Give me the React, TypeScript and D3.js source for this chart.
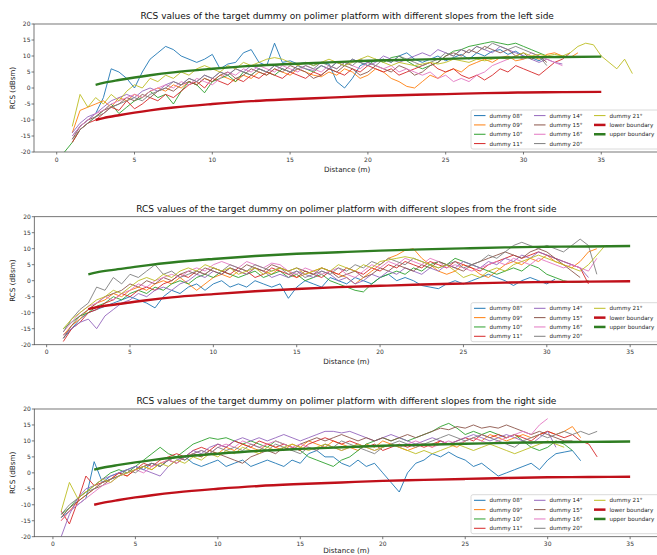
import React from "react";
import * as d3 from "d3";

// ---------- labels ----------
const seriesNames = ["dummy 08°", "dummy 09°", "dummy 10°", "dummy 11°", "dummy 14°", "dummy 15°", "dummy 16°", "dummy 20°", "dummy 21°"];
const seriesColors = ["#1f77b4", "#ff7f0e", "#2ca02c", "#d62728", "#9467bd", "#8c564b", "#e377c2", "#7f7f7f", "#bcbd22"];
const boundaryNames = ["lower boundary", "upper boundary"];
const boundaryColors = ["#c0101a", "#2f7d22"];
const titles = [
  "RCS values of the target dummy on polimer platform with different slopes from the left side",
  "RCS values of the target dummy on polimer platform with different slopes from the front side",
  "RCS values of the target dummy on polimer platform with different slopes from the right side",
];
const xTicks = [0, 5, 10, 15, 20, 25, 30, 35];
const yTicks = [-20, -15, -10, -5, 0, 5, 10, 15, 20];
const xLabel = "Distance (m)";
const yLabel = "RCS (dBsm)";

// sample spacing of the measured series (m)
const STEP = 0.5;

// ---------- left side ----------
const leftStarts = [1.0, 1.0, 0.5, 1.0, 1.0, 1.0, 1.0, 1.0, 1.0];
const left08 = [-15,-12,-10,-8,-3,6,5,3,0,5, 9,11,13,12,10,9,8,9,10.5,6, 7.5,8,11,12,8,7,14,8,8.5,7.5, 8,7,8,7.5,2,0,3,7,8,8.5, 9,8,10,11,9,8,9,10,8.5,9.5, 10.5,9,11,10,11.5,12,10.5,11.5,10,9.5, 8.5,10];
const left09 = [-14,-7,-6,-5,-4,-6,-3,-4,-2,-3, -1,0,-1,1,0,2,1,3,2,4, 3,2,4,3,5,4,6,5,4,6, 5,4,3.5,5,4,6,5,3,4,6, 5,3,2,0.5,0,2,4,3,5,6, 5,7,8,9,8,9.5,10,8.5,9,10, 9,10.5,11,10,9.5,11];
const left10 = [-20,-17,-13,-11,-9,-7,-5,-8,-6,-4, -3,-1,-3,-2,-5,-1,2,1,-1.5,2, 3,4,2,5,4,6,5,4,6,5, 7,6,5,7,6,8,7,9,8,7, 9,8,9.5,10,8.5,7,6,7,8,10, 11.5,12,13,13.5,14,14.5,14,13.5,14,13, 12,11,10];
const left11 = [-17,-13,-11,-10,-8,-6,-7,-4,-6.5,-5, -3,-4,-2,-3,-1,1,2,0,3,2, 1,3,2,4,3,5,4,3,5,4, 3,5,4,6,5,4,6,5,7,6, 5,6,4,5,6,7,8,6,5,6, 4,3,4,2.5,4,6,5,7,6,5, 4,6,8,9,11];
const left14 = [-14,-11,-9,-8,-6,-4,-3,-2,-3,-1, 0,-1,1,2,1,3,2,4,3,5, 4,6,5,7,6,5,7,6,5,7, 6,5.5,7,6,8,7,9,8,7,8, 10,9,8,9,10,11,10,12,11,10, 12,11,13,12,11,13,12,11,10,9, 8,9,8,7.5];
const left15 = [-16,-12,-10,-9,-7,-6,-5,-3,-4,-2, -3,-1,0,-1,1,2,1,3,2,4, 5,3,4,6,5,4,6,5,7,6, 5,3,4,6,5,7,6,4,5,7, 6,5,7,6,4,5,7,8,10,11, 10,12,11,13,12,11,12,10,11,9, 10,8];
const left16 = [-15,-12,-10,-8,-7,-5,-4,-3,-2,-3, -1,0,1,0,2,1,3,2,1,3, 5,4,6,5,7,6,5,7,6,5, 7,6,5,7,6,8,7,6,8,7, 6,7,5,6,5,4,5,3,4,2, 3,2,4,5,7,8,9,10,9,11, 10,9,8,7];
const left20 = [-16,-13,-11,-9,-8,-6,-5,-4,-3,-4, -2,-1,0,2,1,3,2,4,3,5, 4,6,5,4,6,5,7,6,5,6, 7,6,8,7,6,8,7,9,8,7, 9,8,10,9,8,7,8,9,11,10, 12,11,13,12,14,13,12,13,12,11, 10,7];
const left21 = [-12,-2,-6,-3,-5,-2,-4,-1,1,0, 3,2,4,3,5,4,6,7,6,5, 7,6,8,7,8,9,9.5,9,8,7, 8,7,8,9,8,7,8,9,10,9, 8,7,8,7.5,7,7.5,8,7.5,8,9, 8.5,8,9,8.5,9,9.5,9,10,11,10, 10.5,10,10.5,10,11,13,14,13.5,10,8, 6,9,4.5];

// ---------- front side ----------
const frontStarts = [1.0, 1.0, 1.0, 1.0, 1.0, 1.0, 1.0, 1.0, 1.0];
const front08 = [-18,-15,-12,-10,-9,-8,-7,-6,-5,-6, -7,-8.5,-5,-3,-4,-2,-1,-3,-1,0, -2,-1,-2,0,-1,-2,-1,-5.5,-2,0, -1,-2,1,0,-1,1,0,-1,1,2, 0,1,0,-1.5,-2,-2.5,-1,0,-1,0, 1,2,1,0,-1.5,0,1,0,-1,0.5];
const front09 = [-17,-14,-12,-9,-7,-6,-4,-5,-3,-2, -3,-1,0,-1,1,-1,-3,-1,1,2, 1,3,2,4,3,2,4,3,1,2, 3,4,3,2,1,-1,1,3,5,7, 8,9.5,10,7,5,3,2,3,5,4, 2,1,3,5,6,5,7,6,8,6, 5,4,6,9,10];
const front10 = [-15,-13,-11,-10,-8,-7,-5,-6,-4,-3, -4,-2,-3,-1,0,-1,1,2,1,3, 2,1,2,3,1,2,3,1,2,0, 1,2,0,-1,-2,-3,-3.5,-1,1,2, 3,2,4,3,5,6,5,7,6,5, 4,3,2,3,4,3,5,4,2,1, 0,-0.5,-0.5,0];
const front11 = [-19,-15,-13,-10,-9,-7,-6,-4,-5,-3, -2,-3,-1,0,2,1,3,2,4,3, 2,4,3,1,2,4,3,2,1,3, 2,1,3,2,4,3,2,4,3,5, 4,6,5,4,6,5,4,6,5,4, 3,5,6,7,8,7,8,9,8,7, 6,5,4,-1];
const front14 = [-17,-15,-13,-12,-15,-11,-9,-7,-6,-4, -5,-3,-2,-3,-1,0,2,1,3,2, 4,3,2,4,3,1,2,1,3,2, 1,3,2,0,1,-1,0,2,1,3, 2,4,3,2,4,3,5,4,6,5, 4,6,5,7,6,8,7,9,8,7, 6,5,4,1];
const front15 = [-18,-14,-11,-9,-7,-5,-4,-3,-1,-2, 0,-1,1,0,2,3,2,4,3,2, 4,3,5,4,3,5,4,3,4,3, 2,4,3,1,2,3,1,2,4,3, 5,4,3,5,4,6,5,4,3,5, 6,7,8,9,8,7,9,10,9,7, 5,3,1];
const front16 = [-16,-13,-10,-8,-7,-5,-6,-4,-3,-1, -2,0,1,2,1,3,4,3,5,6, 5,4,6,5,4,5.5,5,3,2,4, 3,2,3,4,2,1,3,5,4,6, 5,7,6,5,7,6,4,5,4,3, 4,5,6,5,7,6,5,7,6,5, 4,5,4,3,7];
const front20 = [-16,-12,-9,-7,-2,-3,1,-1,2,1, 3,5,2,3,1,2,3,2,4,3, 5,4,3,5,4,3,4,2,3,1, 2,3,2,4,3,5,4,6,5,7, 6,5,7,6,5,4,5,6,4,5, 6,8,7,9,11,12,11,10,11,10, 9,11,13,11,2];
const front21 = [-15,-12,-10,-8,-6,-5,-3,-4,-2,0, 1,0,2,1,3,4,3,5,4,3, 4,2,3,4,2,3,4,3,4,2, 3,4,3,5,4,3,5,4,6,6.5, 7,7.5,7,6,5,4,5,3,1,2, 1,3,4,3,5,6,7,8,7,6, 5,4,3,5,8,11];

// ---------- right side ----------
const rightStarts = [0.5, 0.5, 0.5, 0.5, 0.5, 0.5, 0.5, 0.5, 0.5];
const right08 = [-14,-12,-10,-8,3.5,-3,-1,0,1,2, 1,3,2,4,3,5,3,2,3,4, 2,3,4,2,3,4,3,2,4,3, 6,7,5,5,3,2,4,2,3,0, -3,-6,0,3,4,6,5,6.5,5,4, 2,3,1,-1,0,1,2,3,1,4, 6,6.5,7,3.8];
const right09 = [-15,-12,-9,-7,-5,-3,-2,0,-1,1, 2,1,3,4,3,5,6,5,7,6, 8,7,9,8,7,9,8,7,9,8, 10,9,8,10,9,8,7,9,8,10, 9,8,7,8,9,8,10,9,8,10, 11,10,12,11,10,11,12,11,12,13, 12,13,14.5,11];
const right10 = [-13,-11,-8,-6,-4,-2,0,1,0,2, 4,6,8,6,5,7,9,10,11,10.5, 11,10,9,10,9,8,10,9,8,7, 5,4,3,2,4,5,7,9,10,11, 10,11,10,11,12,13,14.5,15.5,14,12, 13,12,13,12,11,12,10,8,7,8, 10,9,7];
const right11 = [-12,-16,-9,-1,-4,-3,-2,0,-1,1, 3,2,4,5,6,5,7,8,7,9, 8,10,9,8,10,9,8,9,8,7, 9,10,11,10,9,10,9,8,9,7, 8,9,8,9,8,9,10,9,10,11, 10,12,11,12,11,12,11,10,12,13, 12,11,12,10,9,5];
const right14 = [-20,-13,-8,-5,-4,-2,-1,0,1,2, 1,0,-1,2,4,5,7,6,8,9, 8,10,11,10,11,10,11,12,11,10, 11,12,13,13,12.5,13,12,11,10,11, 12,11,10,9,10,11,10,9,10,11, 12,11,10,11,12,11,10,9,11,13, 8];
const right15 = [-14,-11,-9,-7,-5,-4,-2,-1,0,1, 2,3,2,4,5,4,6,5,7,6, 5,4,3,5,6,7,6,8,7,9, 10,11,10,11,12,11,10,11,10,11, 10,11,12,11,12,13,14,13.5,14.5,14, 15,14,14.5,14,15,14,13,12,13,12, 11,10,10];
const right16 = [-15,-12,-10,-8,-6,-4,-3,-1,0,1, 0,2,3,4,3,5,6,7,6,8, 9,8,10,9,8,9,10,9,8,9, 8,7,9,8,7,8,9,8,7,8, 9,8,9,10,9,8,9,10,9,10, 11,10,9,10,11,12,13,12,15,17];
const right20 = [-13,-10,-8,-6,-5,-3,-2,-1,1,0, 2,3,2,4,5,4,6,7,6,8, 7,8,7,9,8,7,9,8,7,6, 8,7,9,8,10,9,8,7,6,8, 9,10,9,8,9,10,11,12,11,10, 11,12,11,10,9,8,10,11,12,11, 12,13,12,13,12,13];
const right21 = [-12,-3,-8,-6,-4,-2,-3,-1,0,1, 2,1,3,2,4,3,5,4,6,5, 7,6,8,7,6,8,7,8,9,8, 7,8,9,8,7,8,9,8,7,8, 9,8,7,6,7,6,7,8,9,8, 7,8,9,8,7,6,7,8,9,10, 9,8];

// ---------- boundaries ----------
const boundaryDist = [2.5, 3, 4, 5, 6, 7.5, 10, 12.5, 15, 17.5, 20, 22.5, 25, 27.5, 30, 32.5, 35];
const leftUpper = [1.0, 1.6, 2.5, 3.3, 4.0, 4.9, 6.0, 6.9, 7.5, 8.0, 8.5, 8.8, 9.1, 9.4, 9.6, 9.7, 9.8];
const leftLower = [-10, -9.4, -8.5, -7.7, -7.0, -6.1, -5.0, -4.1, -3.5, -3.0, -2.5, -2.2, -1.9, -1.6, -1.4, -1.3, -1.2];
const frontUpper = [2.0, 2.6, 3.4, 4.1, 4.8, 5.7, 6.8, 7.7, 8.4, 8.9, 9.4, 9.8, 10.1, 10.4, 10.6, 10.7, 10.85];
const frontLower = [-8.9, -8.3, -7.5, -6.8, -6.1, -5.2, -4.2, -3.3, -2.6, -2.0, -1.6, -1.2, -0.9, -0.6, -0.4, -0.3, -0.15];
const rightUpper = [1.0, 1.6, 2.5, 3.3, 4.0, 4.9, 6.0, 6.9, 7.5, 8.0, 8.5, 8.8, 9.1, 9.4, 9.6, 9.7, 9.8];
const rightLower = [-10, -9.4, -8.5, -7.7, -7.0, -6.1, -5.0, -4.1, -3.5, -3.0, -2.5, -2.2, -1.9, -1.6, -1.4, -1.3, -1.2];

const FONT = "DejaVu Sans, sans-serif";

type PanelProps = {
  title: string;
  series: number[][];
  starts: number[];
  upper: number[];
  lower: number[];
  top: number;
  bottom: number;
  left: number;
  right: number;
  xDomain: [number, number];
};

function Panel({ title, series, starts, upper, lower, top, bottom, left, right, xDomain }: PanelProps) {
  const x = d3.scaleLinear().domain(xDomain).range([left, right]);
  const y = d3.scaleLinear().domain([-20, 20]).range([bottom, top]);
  const line = d3
    .line<[number, number]>()
    .x((d) => x(d[0]))
    .y((d) => y(d[1]));
  const smooth = d3
    .line<[number, number]>()
    .x((d) => x(d[0]))
    .y((d) => y(d[1]))
    .curve(d3.curveMonotoneX);
  const clipId = "clip" + Math.round(top);
  const midX = (left + right) / 2;
  const legTop = bottom - 42;
  const legLeft = 471;
  const rowY = (r: number) => legTop + 5.6 + r * 9.33;
  const colLine = [474, 534, 594];
  const legendItems = [
    ...seriesNames.map((n, i) => ({ name: n, color: seriesColors[i], w: 1 })),
    ...boundaryNames.map((n, i) => ({ name: n, color: boundaryColors[i], w: 2.5 })),
  ];
  const xLabelY = Math.min(bottom + 19.5, 552.5);
  return (
    <g>
      <defs>
        <clipPath id={clipId}>
          <rect x={left} y={top} width={right - left} height={bottom - top} />
        </clipPath>
      </defs>
      <text x={midX} y={top - 5} textAnchor="middle" fontSize={9.0} fontFamily={FONT} fill="#111">
        {title}
      </text>
      <g clipPath={`url(#${clipId})`}>
        {series.map((vals, i) => (
          <path
            key={i}
            d={line(vals.map((v, j) => [starts[i] + j * STEP, v] as [number, number])) || ""}
            fill="none"
            stroke={seriesColors[i]}
            strokeWidth={0.9}
            strokeLinejoin="round"
          />
        ))}
        <path
          d={smooth(boundaryDist.map((d, j) => [d, lower[j]] as [number, number])) || ""}
          fill="none"
          stroke={boundaryColors[0]}
          strokeWidth={2.4}
        />
        <path
          d={smooth(boundaryDist.map((d, j) => [d, upper[j]] as [number, number])) || ""}
          fill="none"
          stroke={boundaryColors[1]}
          strokeWidth={2.4}
        />
      </g>
      {/* spines */}
      <rect x={left} y={top} width={right - left} height={bottom - top} fill="none" stroke="#555" strokeWidth={0.8} />
      {/* x ticks */}
      {xTicks.map((t) => (
        <g key={"x" + t}>
          <line x1={x(t)} x2={x(t)} y1={bottom} y2={bottom + 2.5} stroke="#555" strokeWidth={0.8} />
          <text x={x(t)} y={bottom + 9.5} textAnchor="middle" fontSize={6} fontFamily={FONT} fill="#333">
            {t}
          </text>
        </g>
      ))}
      {/* y ticks */}
      {yTicks.map((t) => (
        <g key={"y" + t}>
          <line x1={left - 2.5} x2={left} y1={y(t)} y2={y(t)} stroke="#555" strokeWidth={0.8} />
          <text x={left - 3.5} y={y(t) + 2.1} textAnchor="end" fontSize={6} fontFamily={FONT} fill="#333">
            {t}
          </text>
        </g>
      ))}
      <text x={midX} y={xLabelY} textAnchor="middle" fontSize={7.2} fontFamily={FONT} fill="#222">
        {xLabel}
      </text>
      <text
        transform={`translate(${15},${(top + bottom) / 2}) rotate(-90)`}
        textAnchor="middle"
        fontSize={7.2}
        fontFamily={FONT}
        fill="#222"
      >
        {yLabel}
      </text>
      {/* legend */}
      <rect x={legLeft} y={legTop} width={200} height={39} rx={2} fill="white" fillOpacity={0.85} stroke="#d0d0d0" strokeWidth={0.8} />
      {legendItems.map((it, k) => {
        const col = Math.floor(k / 4);
        const row = k % 4;
        const lx = colLine[col];
        const ly = rowY(row);
        return (
          <g key={it.name}>
            <line x1={lx} x2={lx + 11.5} y1={ly} y2={ly} stroke={it.color} strokeWidth={it.w} />
            <text x={lx + 15.5} y={ly + 2} fontSize={5.6} fontFamily={FONT} fill="#222">
              {it.name}
            </text>
          </g>
        );
      })}
    </g>
  );
}

export default function App() {
  return (
    <svg
      width={657}
      height={555}
      viewBox="0 0 657 555"
      style={{ position: "absolute", left: 0, top: 0, background: "white" }}
    >
      <rect x={0} y={0} width={657} height={555} fill="white" />
      <Panel
        title={titles[0]}
        series={[left08, left09, left10, left11, left14, left15, left16, left20, left21]}
        starts={leftStarts}
        upper={leftUpper}
        lower={leftLower}
        top={24}
        bottom={152}
        left={34}
        right={660.4}
        xDomain={[-1.46, 38.8]}
      />
      <Panel
        title={titles[1]}
        series={[front08, front09, front10, front11, front14, front15, front16, front20, front21]}
        starts={frontStarts}
        upper={frontUpper}
        lower={frontLower}
        top={216.7}
        bottom={344.7}
        left={34.3}
        right={658.5}
        xDomain={[-0.74, 36.7]}
      />
      <Panel
        title={titles[2]}
        series={[right08, right09, right10, right11, right14, right15, right16, right20, right21]}
        starts={rightStarts}
        upper={rightUpper}
        lower={rightLower}
        top={409}
        bottom={536.7}
        left={34.3}
        right={658.5}
        xDomain={[-1.13, 36.72]}
      />
    </svg>
  );
}
